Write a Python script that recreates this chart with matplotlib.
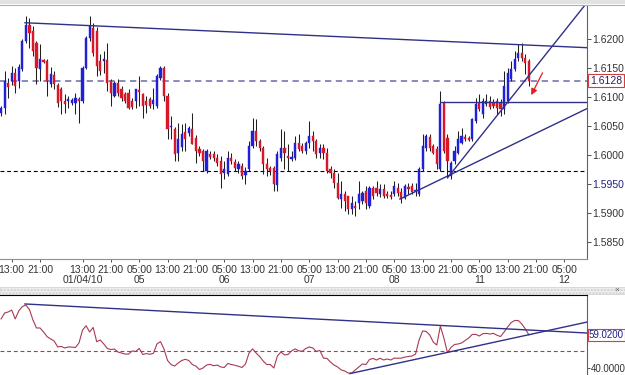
import numpy as np
import matplotlib.pyplot as plt
from matplotlib.patches import Rectangle

# hourly GBP/USD bars, index 0 = first "13:00" tick
bars = np.arange(-3, 147)

opens = [1.6072, 1.6081, 1.6124, 1.6128, 1.6141, 1.6128, 1.6148, 1.6197, 1.6224, 1.6214,
         1.6193, 1.6148, 1.6164, 1.6162, 1.6122, 1.6138, 1.6121, 1.6114, 1.6093, 1.6093,
         1.6090, 1.6090, 1.6097, 1.6093, 1.6150, 1.6202, 1.6219, 1.6214, 1.6162, 1.6162,
         1.6164, 1.6128, 1.6102, 1.6124, 1.6114, 1.6105, 1.6107, 1.6093, 1.6093, 1.6112,
         1.6105, 1.6093, 1.6097, 1.6088, 1.6084, 1.6133, 1.6150, 1.6102, 1.6048, 1.6045,
         1.6003, 1.6014, 1.6040, 1.6038, 1.6045, 1.6029, 1.6010, 1.6007, 1.5972, 1.6002,
         1.6002, 1.5995, 1.5990, 1.5969, 1.5967, 1.5995, 1.5988, 1.5976, 1.5981, 1.5966,
         1.5976, 1.6016, 1.6041, 1.6024, 1.6012, 1.5984, 1.5978, 1.5978, 1.5948, 1.5995,
         1.6012, 1.5998, 1.5993, 1.5995, 1.6021, 1.6016, 1.6007, 1.6021, 1.6033, 1.6024,
         1.6003, 1.6012, 1.6003, 1.5976, 1.5969, 1.5952, 1.5924, 1.5933, 1.5929, 1.5907,
         1.5912, 1.5917, 1.5921, 1.5938, 1.5912, 1.5943, 1.5943, 1.5933, 1.5941, 1.5933,
         1.5931, 1.5933, 1.5943, 1.5936, 1.5926, 1.5945, 1.5947, 1.5938, 1.5933, 1.5976,
         1.6012, 1.6031, 1.6016, 1.6010, 1.5976, 1.6090, 1.6029, 1.5964, 1.5990, 1.6003,
         1.6021, 1.6031, 1.6029, 1.6028, 1.6059, 1.6090, 1.6071, 1.6088, 1.6093, 1.6090,
         1.6093, 1.6090, 1.6079, 1.6093, 1.6131, 1.6148, 1.6167, 1.6176, 1.6167, 1.6162]

highs = [1.6084, 1.6145, 1.6133, 1.6153, 1.6150, 1.6157, 1.6200, 1.6240, 1.6236, 1.6222,
         1.6197, 1.6191, 1.6166, 1.6166, 1.6152, 1.6145, 1.6124, 1.6117, 1.6105, 1.6102,
         1.6098, 1.6107, 1.6100, 1.6153, 1.6205, 1.6240, 1.6228, 1.6221, 1.6174, 1.6179,
         1.6193, 1.6131, 1.6128, 1.6131, 1.6119, 1.6109, 1.6114, 1.6098, 1.6114, 1.6136,
         1.6107, 1.6102, 1.6100, 1.6116, 1.6140, 1.6153, 1.6153, 1.6107, 1.6067, 1.6048,
         1.6055, 1.6053, 1.6055, 1.6050, 1.6072, 1.6034, 1.6016, 1.6010, 1.6010, 1.6007,
         1.6007, 1.6002, 1.5998, 1.5990, 1.6007, 1.6003, 1.5993, 1.5990, 1.5986, 1.5979,
         1.6024, 1.6064, 1.6062, 1.6028, 1.6016, 1.5995, 1.5981, 1.5981, 1.6007, 1.6045,
         1.6041, 1.6019, 1.6007, 1.6033, 1.6036, 1.6021, 1.6024, 1.6059, 1.6041, 1.6028,
         1.6019, 1.6019, 1.6012, 1.5981, 1.5976, 1.5969, 1.5955, 1.5938, 1.5929, 1.5929,
         1.5921, 1.5955, 1.5938, 1.5947, 1.5947, 1.5947, 1.5955, 1.5950, 1.5950, 1.5938,
         1.5938, 1.5955, 1.5952, 1.5943, 1.5950, 1.5952, 1.5952, 1.5952, 1.5979, 1.6036,
         1.6036, 1.6036, 1.6019, 1.6016, 1.6110, 1.6093, 1.6036, 1.5990, 1.6016, 1.6041,
         1.6047, 1.6036, 1.6033, 1.6064, 1.6098, 1.6105, 1.6098, 1.6105, 1.6102, 1.6097,
         1.6098, 1.6097, 1.6145, 1.6150, 1.6162, 1.6179, 1.6191, 1.6193, 1.6174, 1.6166]

lows = [1.6067, 1.6071, 1.6098, 1.6121, 1.6107, 1.6116, 1.6145, 1.6193, 1.6184, 1.6171,
        1.6122, 1.6128, 1.6159, 1.6102, 1.6117, 1.6114, 1.6083, 1.6071, 1.6072, 1.6081,
        1.6086, 1.6071, 1.6055, 1.6090, 1.6148, 1.6197, 1.6171, 1.6136, 1.6138, 1.6141,
        1.6110, 1.6084, 1.6100, 1.6102, 1.6093, 1.6090, 1.6079, 1.6079, 1.6081, 1.6084,
        1.6064, 1.6072, 1.6081, 1.6079, 1.6081, 1.6129, 1.6093, 1.6028, 1.6028, 1.5990,
        1.5990, 1.6007, 1.6007, 1.6033, 1.6019, 1.5986, 1.5998, 1.5972, 1.5969, 1.5993,
        1.5990, 1.5981, 1.5943, 1.5959, 1.5964, 1.5984, 1.5972, 1.5969, 1.5959, 1.5950,
        1.5972, 1.6012, 1.6016, 1.6007, 1.5967, 1.5964, 1.5966, 1.5938, 1.5938, 1.5990,
        1.5976, 1.5972, 1.5990, 1.5991, 1.6007, 1.6003, 1.6002, 1.6012, 1.6007, 1.5995,
        1.5995, 1.5993, 1.5969, 1.5960, 1.5943, 1.5924, 1.5909, 1.5903, 1.5898, 1.5898,
        1.5895, 1.5907, 1.5916, 1.5907, 1.5909, 1.5924, 1.5929, 1.5928, 1.5926, 1.5926,
        1.5924, 1.5929, 1.5929, 1.5917, 1.5924, 1.5933, 1.5933, 1.5929, 1.5929, 1.5972,
        1.6007, 1.6007, 1.6002, 1.5976, 1.5972, 1.6003, 1.5960, 1.5959, 1.5984, 1.6002,
        1.6019, 1.6024, 1.6024, 1.6024, 1.6055, 1.6076, 1.6064, 1.6084, 1.6079, 1.6081,
        1.6071, 1.6067, 1.6071, 1.6090, 1.6128, 1.6145, 1.6162, 1.6162, 1.6140, 1.6119]

closes = [1.6081, 1.6128, 1.6117, 1.6141, 1.6119, 1.6152, 1.6197, 1.6224, 1.6210, 1.6179,
          1.6150, 1.6166, 1.6160, 1.6128, 1.6140, 1.6122, 1.6090, 1.6093, 1.6088, 1.6097,
          1.6095, 1.6098, 1.6093, 1.6150, 1.6202, 1.6222, 1.6176, 1.6153, 1.6145, 1.6166,
          1.6124, 1.6107, 1.6124, 1.6107, 1.6098, 1.6093, 1.6081, 1.6083, 1.6114, 1.6109,
          1.6084, 1.6086, 1.6084, 1.6095, 1.6136, 1.6150, 1.6102, 1.6045, 1.6050, 1.6002,
          1.6028, 1.6036, 1.6028, 1.6047, 1.6019, 1.6007, 1.6003, 1.5990, 1.6007, 1.5997,
          1.5995, 1.5986, 1.5967, 1.5976, 1.5995, 1.5990, 1.5978, 1.5984, 1.5964, 1.5972,
          1.6016, 1.6041, 1.6024, 1.6012, 1.5984, 1.5976, 1.5972, 1.5950, 1.6002, 1.6012,
          1.6003, 1.5995, 1.5997, 1.6021, 1.6010, 1.6007, 1.6021, 1.6033, 1.6024, 1.6002,
          1.6012, 1.6003, 1.5972, 1.5969, 1.5952, 1.5926, 1.5933, 1.5921, 1.5907, 1.5917,
          1.5909, 1.5933, 1.5934, 1.5917, 1.5943, 1.5929, 1.5934, 1.5941, 1.5929, 1.5929,
          1.5928, 1.5947, 1.5934, 1.5924, 1.5947, 1.5941, 1.5936, 1.5938, 1.5976, 1.6016,
          1.6033, 1.6012, 1.6003, 1.5984, 1.6088, 1.6007, 1.5990, 1.5986, 1.6007, 1.6028,
          1.6033, 1.6028, 1.6026, 1.6062, 1.6088, 1.6079, 1.6093, 1.6093, 1.6083, 1.6084,
          1.6081, 1.6079, 1.6119, 1.6141, 1.6148, 1.6166, 1.6176, 1.6167, 1.6159, 1.6128]

rsi = [68.2, 71.6, 72.2, 73.3, 68.2, 72.8, 75.3, 76.2, 73.6, 67.6,
       63.0, 63.0, 60.7, 58.0, 56.7, 55.5, 52.1, 52.4, 51.5, 52.1,
       52.0, 51.8, 54.4, 61.8, 64.3, 60.7, 63.3, 55.1, 56.1, 53.8,
       51.2, 50.6, 50.9, 49.2, 48.6, 48.0, 48.0, 49.8, 49.5, 51.2,
       47.8, 48.3, 47.9, 48.4, 53.8, 55.2, 50.9, 44.3, 42.0, 41.1,
       42.9, 44.3, 45.0, 44.3, 42.0, 41.1, 39.1, 40.0, 41.7, 42.1,
       41.3, 41.7, 40.6, 40.3, 42.6, 42.0, 41.6, 41.0, 40.3, 42.3,
       48.6, 51.0, 48.6, 46.6, 44.0, 42.0, 42.0, 40.0, 46.9, 49.2,
       47.5, 47.8, 49.8, 51.0, 49.9, 49.6, 51.2, 52.1, 51.5, 49.5,
       50.1, 45.7, 45.5, 43.4, 41.7, 40.6, 38.9, 38.3, 37.1, 37.1,
       38.9, 40.6, 42.3, 42.0, 44.9, 45.5, 44.6, 45.6, 44.6, 45.2,
       44.6, 45.7, 45.6, 45.7, 46.3, 46.6, 46.9, 48.0, 56.1, 61.3,
       61.0, 59.0, 54.9, 53.2, 64.1, 57.2, 48.9, 51.8, 53.5, 53.8,
       54.4, 55.8, 57.2, 59.3, 59.3, 58.4, 59.7, 59.9, 59.5, 59.9,
       58.8, 58.1, 60.7, 63.6, 66.1, 67.3, 67.3, 65.3, 62.4, 59.02]

time_ticks = [0, 8, 20, 28, 36, 44, 52, 60, 68, 76, 84, 92, 100, 108, 116, 124, 132, 140, 148, 156]
time_labels = ['13:00', '21:00', '13:00', '21:00', '05:00', '13:00', '21:00', '05:00', '13:00', '21:00',
               '05:00', '13:00', '21:00', '05:00', '13:00', '21:00', '05:00', '13:00', '21:00', '05:00']
date_ticks = [20, 36, 60, 84, 108, 132, 156]
date_labels = ['01/04/10', '05', '06', '07', '08', '11', '12']
price_ticks = [1.585, 1.590, 1.595, 1.600, 1.605, 1.610, 1.615, 1.620]

# drawn lines (bar index, price / rsi)
top_line = ([3.75, 162.4], [1.6228, 1.6185])
flat_line = ([120.9, 162.4], [1.6092, 1.6092])
steep_line = ([123.2, 161.9], [1.5962, 1.6259])
shallow_line = ([109.6, 162.4], [1.5924, 1.6080])
rsi_top_line = ([3.75, 162.4], [76.8, 60.1])
rsi_up_line = ([95.5, 162.4], [36.8, 66.4])
last_price = 1.6128
support_price = 1.5972

plt.rcParams['font.family'] = ['Liberation Sans', 'DejaVu Sans']
fig = plt.figure(figsize=(6.25, 3.75), dpi=100)
W, H = 625.0, 375.0

ax = fig.add_axes([0, 116 / H, 587 / W, 254 / H])
ax2 = fig.add_axes([0, 0, 587 / W, 80 / H])

# candles
o = np.array(opens); h = np.array(highs); l = np.array(lows); c = np.array(closes)
up = c >= o
colors = np.where(up, '#2020d8', '#d81828')
ax.vlines(bars, l, h, color='#202020', lw=0.75, zorder=2)
ax.bar(bars, np.maximum(np.abs(c - o), 0.00008), bottom=np.minimum(o, c), width=0.62,
       color=colors, edgecolor=colors, lw=0.3, zorder=3)

ax.axhline(last_price, color='#8080b8', ls=(0, (3.5, 2.5)), lw=1.3, zorder=1)
ax.axhline(support_price, color='black', ls=(0, (3.5, 2.5)), lw=0.8, zorder=1)

for xs, ys in [top_line, flat_line, steep_line, shallow_line]:
    ax.plot(xs, ys, color='#30308a', lw=1.0, zorder=4)

ax.annotate('', xy=(146.3, 1.6099), xytext=(150.2, 1.6146),
            arrowprops=dict(arrowstyle='-|>', color='#e02020', lw=0.9, mutation_scale=9),
            zorder=5)

ax.set_xlim(-3.3, 162.4)
ax.set_ylim(1.58207, 1.62586)
ax.yaxis.tick_right()
ax.set_yticks(price_ticks)
ax.set_yticklabels(['%.4f' % p for p in price_ticks])
ax.tick_params(axis='y', length=3, width=0.6, pad=1, labelsize=7.5, colors='#333333')
ax.set_xticks(time_ticks)
ax.set_xticklabels(time_labels)
ax.tick_params(axis='x', length=2, width=0.6, pad=2.5, labelsize=7.5, colors='#333333')
for i, t in enumerate(ax.get_yticklabels()):
    if price_ticks[i] == 1.595:
        t.set_color('#202080')
for t, lab in zip(date_ticks, date_labels):
    ax.text(t, -0.083, lab, transform=ax.get_xaxis_transform(),
            ha='center', va='center', fontsize=7.5, color='#333333')
for s in ['top', 'left']:
    ax.spines[s].set_visible(False)
ax.spines['right'].set_color('#606060')
ax.spines['bottom'].set_color('#909090')

ax.text(1.005, (last_price - 1.58207) / (1.62586 - 1.58207), '%.4f' % last_price,
        transform=ax.transAxes, ha='left', va='center', fontsize=7.5, color='#202060',
        bbox=dict(boxstyle='square,pad=0.15', fc='white', ec='#d04040', lw=0.8), clip_on=False)

# RSI panel
ax2.plot(bars, rsi, color='#a83a55', lw=0.8, zorder=3)
ax2.axhline(50, color='#c83040', ls=(0, (3.5, 2.5)), lw=0.8, zorder=1)
for xs, ys in [rsi_top_line, rsi_up_line]:
    ax2.plot(xs, ys, color='#30308a', lw=1.0, zorder=4)
ax2.set_xlim(-3.3, 162.4)
ax2.set_ylim(35.98, 81.95)
ax2.yaxis.tick_right()
ax2.set_yticks([40])
ax2.set_yticklabels(['40.0000'])
ax2.tick_params(axis='y', length=2, width=0.6, pad=0.5, labelsize=7, colors='#333333')
ax2.set_xticks([])
for s in ['left', 'bottom']:
    ax2.spines[s].set_visible(False)
ax2.spines['top'].set_color('black')
ax2.spines['right'].set_color('#606060')
ax2.text(1.003, (rsi[-1] - 35.98) / (81.95 - 35.98), '%.4f' % rsi[-1],
         transform=ax2.transAxes, ha='left', va='center', fontsize=7, color='#202080',
         bbox=dict(boxstyle='square,pad=0.1', fc='white', ec='#d04040', lw=0.8), clip_on=False)

# window chrome: top strip and splitter bar
fig.patches.append(Rectangle((0, 1 - 4 / H), 1, 4 / H, transform=fig.transFigure,
                             fc='#e2e2e2', ec='none'))
fig.lines.append(plt.Line2D([0, 1], [1 - 4.5 / H, 1 - 4.5 / H], transform=fig.transFigure,
                            color='#b0b0b0', lw=0.8))
fig.patches.append(Rectangle((0, 81 / H), 1, 7 / H, transform=fig.transFigure,
                             fc='#ececec', ec='#d0d0d0', lw=0.5, hatch='.....'))
fig.text(617 / W, 1 - 290 / H, '×', fontsize=6, color='#606060', ha='center', va='center')

fig.savefig('out.png', dpi=100, facecolor='white')
